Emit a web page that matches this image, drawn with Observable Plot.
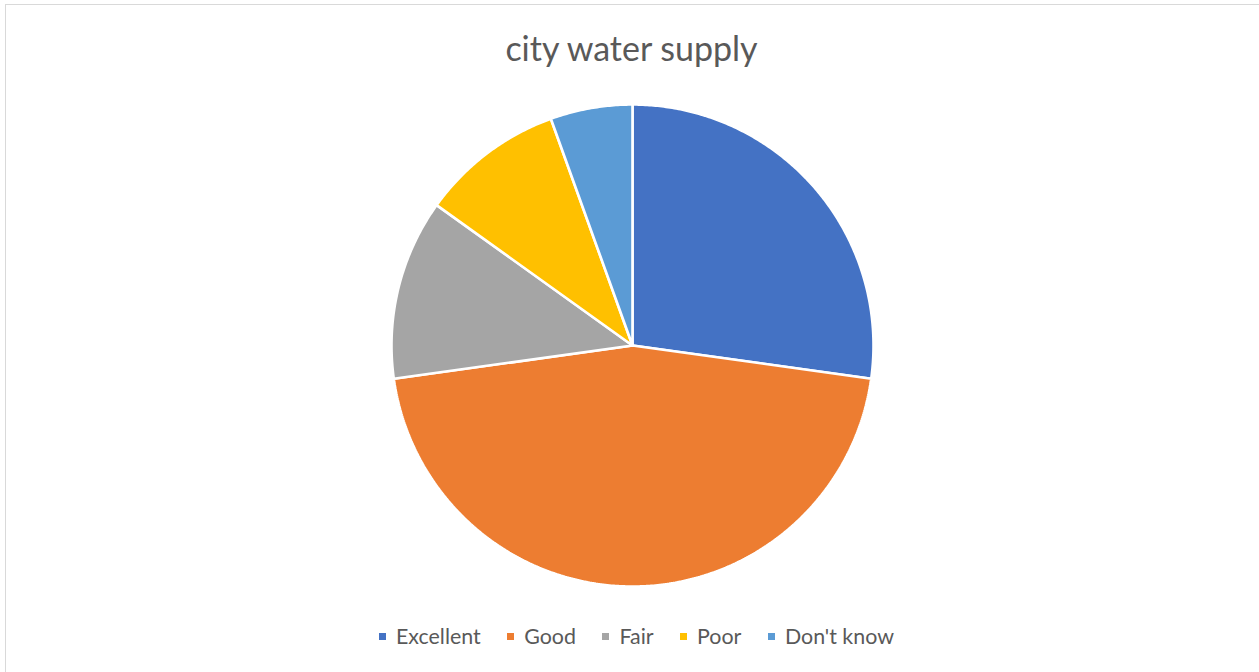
<!DOCTYPE html>
<html>
<head>
<meta charset="utf-8">
<script src="https://cdn.jsdelivr.net/npm/d3@7"></script>
<script src="https://cdn.jsdelivr.net/npm/@observablehq/plot@0.6"></script>
<style>
  html, body { margin: 0; padding: 0; background: #fff; overflow: hidden; }
  #chart { position: relative; width: 1259px; height: 672px; overflow: hidden; font-family: Lato, "Open Sans", sans-serif; }
  #frame { position: absolute; left: 5px; top: 4px; width: 1270px; height: 680px; border: 1px solid #d9d9d9; box-sizing: border-box; }
  #title { position: absolute; left: 2px; width: 1259px; top: 31px; text-align: center; font-size: 34px; color: #595959; line-height: 1; }
  #pie { position: absolute; left: 381px; top: 94px; }
  #legend { position: absolute; left: 379px; top: 626px; display: flex; justify-content: flex-start; align-items: center; font-size: 21.4px; color: #595959; line-height: 1; white-space: nowrap; }
  .item { display: flex; align-items: center; margin-right: 26.5px; }
  .sw { width: 7px; height: 7px; margin-right: 10px; }
</style>
</head>
<body>
<div id="chart">
  <div id="frame"></div>
  <div id="title">city water supply</div>
  <div id="pie"></div>
  <div id="legend"></div>
</div>
<script>
const categories = ["Excellent", "Good", "Fair", "Poor", "Don't know"];
const values = [27.2, 45.6, 12.1, 9.6, 5.5];
const colors = ["#4472C4", "#ED7D31", "#A5A5A5", "#FFC000", "#5B9BD5"];
const titleText = "city water supply";

document.getElementById("title").textContent = titleText;

const data = categories.map((name, i) => ({name, value: values[i]}));
const arcs = d3.pie().sort(null).value(d => d.value).startAngle(0).endAngle(2 * Math.PI)(data);

// Build polygon outlines from the pie layout (unit circle coordinates)
const pts = [];
for (const a of arcs) {
  const name = a.data.name;
  pts.push({name, x: 0, y: 0});
  const n = Math.max(2, Math.ceil((a.endAngle - a.startAngle) / (Math.PI / 360)));
  for (let k = 0; k <= n; k++) {
    const t = a.startAngle + (a.endAngle - a.startAngle) * k / n;
    pts.push({name, x: Math.sin(t), y: Math.cos(t)});
  }
}

const plot = Plot.plot({
  width: 502,
  height: 502,
  margin: 10,
  x: {domain: [-1, 1], axis: null},
  y: {domain: [-1, 1], axis: null},
  color: {domain: categories, range: colors},
  marks: [
    Plot.line(pts, {x: "x", y: "y", z: "name", fill: "name", stroke: "white", strokeWidth: 2.6, curve: "linear-closed", strokeLinejoin: "miter"})
  ]
});
document.getElementById("pie").appendChild(plot);

const legend = document.getElementById("legend");
categories.forEach((c, i) => {
  const item = document.createElement("div");
  item.className = "item";
  const sw = document.createElement("div");
  sw.className = "sw";
  sw.style.background = colors[i];
  const t = document.createElement("span");
  t.textContent = c;
  item.appendChild(sw);
  item.appendChild(t);
  legend.appendChild(item);
});
</script>
</body>
</html>
